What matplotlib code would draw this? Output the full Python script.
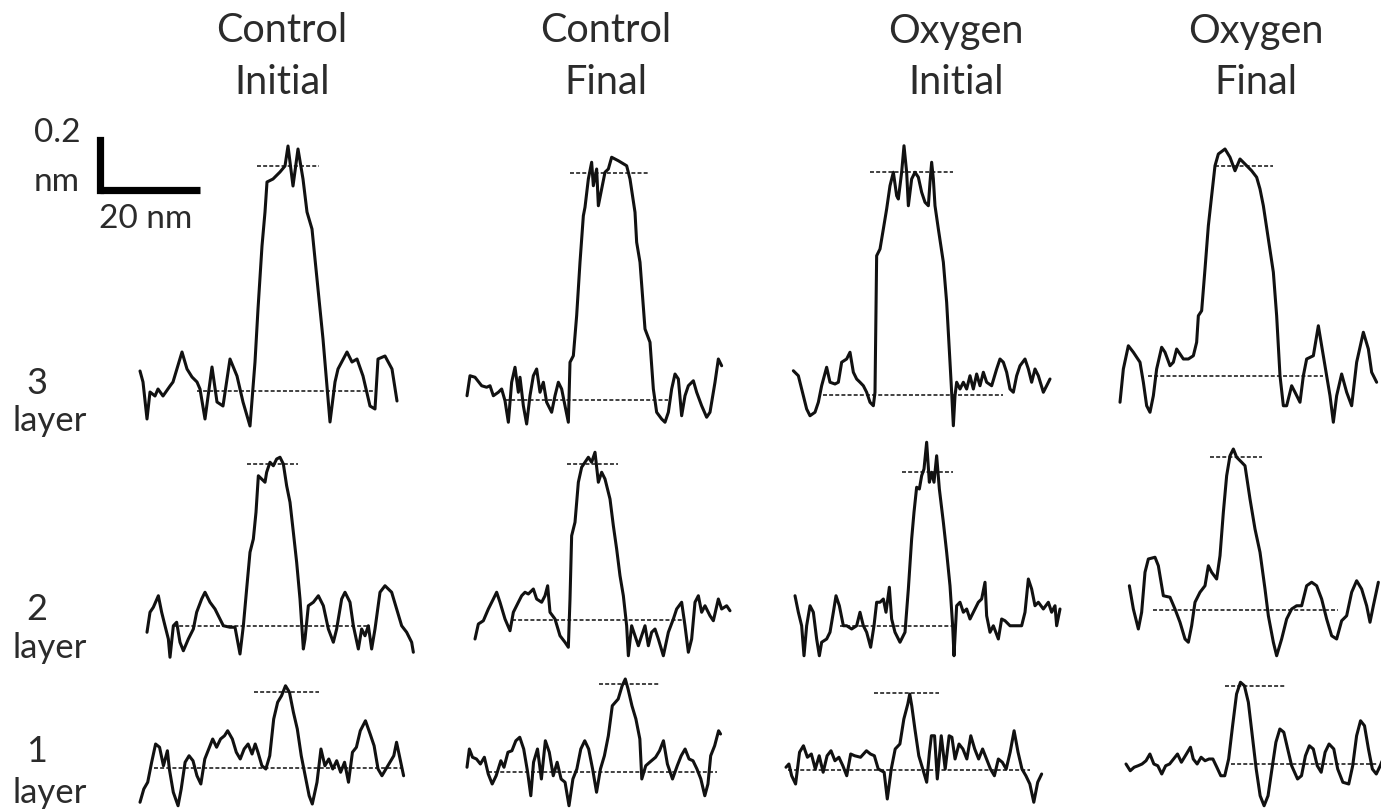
import matplotlib
matplotlib.use("Agg")
import matplotlib.pyplot as plt

# drawing scale: 5 px per nm along the scan, 250 px per nm in height
W, H = 1381, 812
PX_PER_NM_X = 5.0
PX_PER_NM_Z = 250.0

# ---- height profiles (x in nm along the line, h in nm above the substrate) ----

# Control, initial, 3 layer
ci3_x = [0, 0.6, 1.4, 2.0, 3.0, 3.6, 4.6, 6.0, 6.6, 8.4, 9.4, 10.4, 11.4, 12.0, 13.0, 14.4,
         15.4, 16.6, 18.0, 19.4, 20.6, 22.0, 23.0, 23.6, 24.4, 25.0, 25.4, 26.6, 28.0, 29.0,
         29.6, 30.6, 31.6, 32.6, 33.4, 34.4, 35.4, 36.6, 38.0, 39.0, 39.6, 41.4, 42.4, 43.4,
         44.6, 46.0, 47.0, 47.6, 49.0, 50.4, 51.4]
ci3_h = [0.08, 0.036, -0.112, -0.004, -0.02, 0.008, -0.02, 0.02, 0.036, 0.156, 0.088, 0.056,
         0.036, 0.008, -0.112, 0.096, -0.044, -0.06, 0.128, 0.06, -0.044, -0.14, 0.116, 0.328,
         0.58, 0.716, 0.836, 0.848, 0.876, 0.90, 0.98, 0.82, 0.968, 0.848, 0.716, 0.648, 0.448,
         0.208, -0.124, 0.036, 0.088, 0.156, 0.116, 0.128, 0.06, -0.06, -0.072, 0.128, 0.14,
         0.088, -0.04]
ci3_base = (11.3, 47.3)
ci3_step = (23.3, 35.7, 0.90)

# Control, final, 3 layer
cf3_x = [0, 0.6, 1.6, 2.93, 3.93, 4.6, 5.27, 6.27, 6.93, 7.6, 8.27, 8.93, 9.6, 10.27, 10.6,
         11.27, 11.93, 12.6, 13.27, 13.93, 14.6, 15.27, 15.93, 16.93, 17.6, 18.27, 18.93, 19.6,
         20.27, 20.6, 21.27, 21.93, 22.6, 23.27, 23.6, 24.27, 24.93, 25.27, 25.93, 26.27, 26.93,
         27.6, 28.27, 28.93, 30.27, 31.93, 32.6, 33.6, 33.93, 34.6, 35.6, 36.6, 37.27, 37.93,
         38.93, 39.6, 40.27, 40.93, 41.6, 42.27, 42.93, 43.6, 44.27, 45.27, 45.93, 46.93, 47.93,
         48.6, 49.6, 50.27, 50.93]
cf3_h = [0.017, 0.097, 0.091, 0.057, 0.051, 0.057, 0.017, 0.031, 0.044, -0.003, -0.089, 0.071,
         0.131, 0.031, 0.091, -0.023, -0.096, 0.017, 0.097, 0.124, 0.031, 0.071, -0.009, -0.049,
         0.017, 0.071, 0.044, -0.023, -0.089, 0.151, 0.177, 0.337, 0.551, 0.737, 0.771, 0.884,
         0.951, 0.857, 0.924, 0.777, 0.844, 0.911, 0.924, 0.971, 0.957, 0.937, 0.884, 0.751,
         0.631, 0.551, 0.284, 0.231, 0.044, -0.049, -0.076, -0.089, -0.049, 0.044, 0.104, 0.084,
         -0.063, 0.017, 0.057, 0.077, 0.031, -0.023, -0.069, -0.049, 0.071, 0.164, 0.137]
cf3_base = (7.6, 40.27)
cf3_step = (20.6, 36.27, 0.907)

# Oxygen, initial, 3 layer
oi3_x = [0.07, 1.07, 2.07, 2.73, 3.4, 4.4, 5.07, 5.73, 6.73, 7.4, 8.4, 9.07, 9.73, 10.73, 11.4,
         12.07, 12.73, 13.4, 14.07, 14.73, 15.4, 16.07, 16.4, 16.73, 17.4, 18.07, 18.73, 19.4,
         20.07, 20.73, 21.07, 21.73, 22.2, 22.73, 23.07, 23.73, 24.4, 25.07, 25.73, 26.4, 27.07,
         27.4, 27.73, 28.07, 28.4, 29.07, 30.07, 30.73, 31.4, 31.73, 32.07, 32.4, 32.73, 33.4,
         34.07, 34.73, 35.4, 36.07, 36.73, 37.4, 38.07, 38.73, 39.73, 40.73, 41.4, 42.07, 42.73,
         43.4, 44.07, 44.73, 45.4, 46.4, 47.07, 47.73, 48.4, 49.07, 50.07, 50.73, 51.4]
oi3_h = [0.097, 0.077, -0.003, -0.056, -0.083, -0.069, -0.029, 0.037, 0.111, 0.051, 0.044,
         0.051, 0.131, 0.144, 0.171, 0.091, 0.064, 0.051, 0.037, 0.011, -0.029, -0.043, 0.011,
         0.557, 0.584, 0.664, 0.744, 0.837, 0.891, 0.797, 0.784, 0.891, 0.997, 0.891, 0.757,
         0.864, 0.891, 0.871, 0.811, 0.771, 0.757, 0.851, 0.931, 0.864, 0.757, 0.664, 0.531,
         0.371, 0.131, 0.011, -0.123, -0.003, 0.051, 0.024, 0.051, 0.024, 0.077, 0.024, 0.084,
         0.037, 0.091, 0.051, 0.037, 0.104, 0.144, 0.131, 0.091, 0.024, 0.011, 0.077, 0.117,
         0.144, 0.104, 0.051, 0.104, 0.077, 0.011, 0.037, 0.064]
oi3_base = (6.07, 42.07)
oi3_step = (15.4, 32.07, 0.891)

# Oxygen, final, 3 layer
of3_x = [0, 0.67, 1.67, 2.67, 4.0, 4.67, 5.33, 6.0, 6.67, 7.33, 8.33, 9.0, 10.0, 10.67, 11.33,
         12.0, 12.67, 13.67, 14.67, 15.33, 15.67, 16.33, 17.0, 17.67, 18.33, 19.0, 19.67, 21.0,
         22.0, 23.0, 24.0, 25.0, 26.33, 27.33, 28.0, 28.67, 29.67, 30.67, 31.33, 32.0, 32.67,
         33.33, 34.33, 35.0, 36.0, 36.67, 37.33, 38.67, 39.67, 40.33, 41.33, 42.0, 42.67, 43.33,
         44.33, 45.33, 46.33, 47.33, 48.67, 49.67, 50.33, 51.33]
of3_h = [-0.105, 0.028, 0.121, 0.095, 0.055, -0.025, -0.119, -0.145, -0.079, 0.028, 0.115,
         0.095, 0.041, 0.055, 0.108, 0.088, 0.068, 0.068, 0.081, 0.135, 0.241, 0.261, 0.428,
         0.601, 0.721, 0.841, 0.888, 0.908, 0.875, 0.821, 0.868, 0.848, 0.821, 0.795, 0.748,
         0.681, 0.548, 0.415, 0.241, 0.001, -0.119, -0.119, -0.039, -0.065, -0.105, 0.001,
         0.068, 0.081, 0.201, 0.121, 0.001, -0.079, -0.185, -0.079, 0.008, -0.065, -0.119,
         0.055, 0.175, 0.108, 0.015, -0.025]
of3_base = (5.67, 40.67)
of3_step = (19.0, 30.67, 0.841)

# Control, initial, 2 layer
ci2_x = [0, 0.6, 1.27, 2.27, 2.93, 3.6, 4.27, 4.6, 5.27, 5.93, 6.6, 7.27, 8.27, 9.27, 9.93,
         10.93, 11.6, 12.6, 13.6, 14.27, 15.27, 16.6, 17.6, 18.6, 19.27, 19.93, 20.6, 21.27,
         21.8, 22.27, 22.93, 23.6, 23.93, 24.6, 25.27, 25.93, 26.6, 27.27, 27.93, 28.6, 29.27,
         29.93, 30.6, 31.27, 31.6, 32.27, 33.27, 34.27, 35.27, 36.27, 37.27, 37.93, 38.93, 39.6,
         40.6, 41.27, 42.27, 42.93, 43.6, 44.27, 44.93, 45.6, 46.6, 47.6, 48.93, 49.93, 50.93,
         51.93, 52.93, 53.27]
ci2_h = [-0.025, 0.055, 0.075, 0.121, 0.055, 0.001, -0.052, -0.125, 0.001, 0.015, -0.065,
         -0.099, -0.052, -0.012, 0.055, 0.108, 0.135, 0.095, 0.068, 0.041, 0.001, -0.005,
         -0.005, -0.112, 0.001, 0.148, 0.295, 0.348, 0.455, 0.601, 0.588, 0.575, 0.615, 0.655,
         0.641, 0.668, 0.675, 0.648, 0.561, 0.495, 0.375, 0.255, 0.108, -0.092, -0.052, 0.081,
         0.095, 0.121, 0.081, -0.012, -0.065, -0.012, 0.108, 0.135, 0.095, 0.001, -0.092,
         -0.012, -0.039, 0.001, -0.092, -0.012, 0.135, 0.161, 0.135, 0.068, 0.001, -0.025,
         -0.065, -0.105]
ci2_base = (5.27, 44.6)
ci2_step = (19.93, 30.27, 0.648)

# Control, final, 2 layer
cf2_x = [0, 0.67, 1.67, 2.67, 3.67, 4.33, 5.0, 6.0, 7.0, 7.67, 8.67, 9.33, 10.0, 10.67, 11.67,
         12.33, 13.33, 14.0, 14.53, 15.0, 16.0, 17.0, 18.0, 18.67, 19.0, 19.33, 20.0, 20.67,
         21.33, 22.0, 22.67, 23.33, 24.0, 24.67, 25.33, 26.0, 27.0, 27.67, 28.33, 29.0, 29.67,
         30.33, 30.67, 31.33, 32.0, 32.67, 33.33, 34.0, 34.67, 35.33, 36.0, 36.67, 37.67, 38.67,
         39.67, 40.33, 41.33, 42.0, 42.67, 43.33, 44.0, 44.67, 45.33, 46.0, 47.0, 47.67, 48.67,
         49.33, 50.33, 51.0]
cf2_h = [-0.076, -0.016, -0.003, 0.044, 0.084, 0.111, 0.071, 0.004, -0.043, 0.031, 0.071,
         0.097, 0.111, 0.104, 0.124, 0.084, 0.071, 0.097, 0.137, 0.031, 0.004, -0.063, -0.089,
         -0.109, 0.084, 0.337, 0.391, 0.551, 0.611, 0.631, 0.651, 0.631, 0.671, 0.551, 0.591,
         0.564, 0.484, 0.377, 0.284, 0.177, 0.097, -0.023, -0.143, -0.023, -0.063, -0.103,
         -0.063, -0.023, -0.103, -0.049, -0.036, -0.076, -0.143, -0.049, 0.004, 0.044, 0.071,
         -0.023, -0.129, -0.076, 0.071, 0.097, 0.031, 0.057, 0.017, -0.003, 0.084, 0.044,
         0.057, 0.037]
cf2_base = (7.33, 41.33)
cf2_step = (18.33, 28.67, 0.624)

# Oxygen, initial, 2 layer
oi2_x = [0, 0.67, 1.33, 1.8, 2.33, 3.0, 3.67, 4.33, 4.87, 5.33, 6.33, 7.0, 7.67, 8.2, 8.87,
         9.67, 10.33, 11.33, 12.33, 13.0, 13.67, 14.33, 15.13, 15.8, 16.33, 17.0, 17.67, 18.2,
         18.87, 19.33, 20.0, 21.0, 22.0, 22.67, 23.33, 23.8, 24.33, 24.87, 25.33, 25.8, 26.33,
         26.87, 27.33, 27.8, 28.33, 28.87, 29.67, 30.33, 31.0, 31.53, 31.8, 32.33, 33.0, 33.67,
         34.33, 35.0, 35.67, 36.67, 37.33, 38.0, 38.33, 39.0, 39.67, 40.67, 41.33, 42.0, 43.0,
         44.33, 45.33, 46.0, 46.67, 47.33, 48.0, 48.67, 49.67, 50.67, 51.33, 52.0, 52.33, 53.0]
oi2_h = [0.121, 0.055, 0.001, -0.119, 0.001, 0.081, 0.055, -0.052, -0.119, -0.065, -0.052,
         -0.025, 0.055, 0.121, 0.081, 0.001, 0.001, -0.012, 0.001, 0.055, 0.001, -0.025,
         -0.085, 0.001, 0.095, 0.095, 0.108, 0.055, 0.155, 0.028, -0.025, -0.065, -0.025,
         0.148, 0.348, 0.455, 0.555, 0.548, 0.601, 0.628, 0.735, 0.575, 0.615, 0.575, 0.681,
         0.548, 0.415, 0.295, 0.161, 0.001, -0.119, 0.081, 0.095, 0.055, 0.068, 0.028, 0.055,
         0.095, 0.108, 0.175, 0.041, -0.025, 0.001, -0.052, 0.028, 0.021, 0.001, 0.001, 0.001,
         0.055, 0.188, 0.148, 0.081, 0.095, 0.068, 0.095, 0.055, 0.081, 0.001, 0.068]
oi2_base = (9.0, 32.33)
oi2_step = (21.33, 31.67, 0.617)

# Oxygen, final, 2 layer
of2_x = [0.07, 0.87, 1.87, 2.53, 3.2, 3.87, 5.2, 5.87, 6.87, 8.2, 9.2, 10.2, 11.2, 11.87, 12.53,
         13.2, 14.2, 15.2, 15.87, 16.53, 17.53, 18.2, 18.87, 19.53, 20.2, 20.87, 21.53, 22.53,
         23.2, 24.2, 25.2, 26.2, 27.2, 27.87, 28.87, 29.53, 30.53, 31.53, 32.53, 33.53, 34.53,
         35.53, 36.53, 37.53, 38.53, 39.53, 40.53, 41.53, 42.53, 43.53, 44.53, 45.53, 46.53,
         47.53, 48.2, 48.87, 49.87]
of2_h = [0.097, 0.004, -0.076, -0.009, 0.151, 0.204, 0.211, 0.177, 0.057, 0.051, 0.004,
         -0.049, -0.116, -0.129, -0.063, 0.031, 0.071, 0.097, 0.177, 0.151, 0.124, 0.217,
         0.391, 0.537, 0.617, 0.644, 0.611, 0.591, 0.577, 0.444, 0.324, 0.231, 0.084, -0.023,
         -0.129, -0.183, -0.116, -0.036, 0.004, 0.017, 0.017, 0.097, 0.111, 0.097, 0.044,
         -0.036, -0.103, -0.116, -0.043, -0.023, 0.071, 0.117, 0.084, 0.017, -0.049, 0.017,
         0.111]
of2_base = (4.87, 41.87)
of2_step = (16.2, 26.53, 0.611)

# Control, initial, 1 layer
ci1_x = [0, 0.76, 1.54, 2.33, 3.12, 3.91, 4.69, 5.48, 5.87, 6.66, 7.61, 8.24, 9.02, 9.81, 10.6,
         11.39, 12.17, 12.96, 13.75, 14.54, 15.32, 16.11, 16.9, 17.53, 18.47, 19.26, 20.05,
         20.83, 21.62, 22.41, 23.04, 23.59, 24.38, 25.17, 25.95, 26.74, 27.53, 28.31, 29.1,
         29.89, 30.68, 31.46, 32.25, 33.04, 33.83, 34.46, 35.4, 36.19, 36.98, 37.76, 38.55,
         39.34, 40.13, 40.91, 41.7, 42.49, 43.28, 44.06, 45.09, 46.03, 46.82, 47.61, 48.39,
         49.57, 50.76, 51.31, 51.94, 52.72]
ci1_h = [-0.137, -0.084, -0.057, 0.023, 0.096, 0.083, 0.009, 0.069, -0.004, -0.097, -0.151,
         -0.084, 0.023, 0.049, 0.029, -0.031, -0.064, 0.036, 0.076, 0.116, 0.083, 0.116, 0.129,
         0.149, 0.116, 0.063, 0.036, 0.076, 0.096, 0.056, 0.096, 0.063, 0.009, -0.004, 0.049,
         0.196, 0.263, 0.289, 0.329, 0.303, 0.223, 0.156, 0.049, -0.031, -0.111, -0.144,
         -0.057, 0.076, 0.009, 0.036, -0.004, 0.029, -0.017, 0.023, -0.057, 0.063, 0.083, 0.149,
         0.189, 0.136, 0.089, -0.004, -0.031, 0.009, 0.049, 0.103, 0.043, -0.031]
ci1_base = (2.72, 52.3)
ci1_step = (22.8, 35.8, 0.303)

# Control, final, 1 layer
cf1_x = [0, 0.47, 1.1, 1.89, 2.68, 3.47, 4.25, 5.04, 5.83, 6.77, 7.4, 8.19, 8.98, 9.77, 10.55,
         11.34, 12.13, 12.76, 13.31, 14.1, 14.88, 15.67, 16.46, 17.25, 18.03, 18.82, 19.61,
         20.4, 21.18, 21.97, 22.76, 23.55, 24.33, 25.12, 25.91, 26.69, 27.48, 28.27, 29.06,
         30.24, 31.03, 31.66, 32.21, 32.99, 33.78, 34.57, 34.96, 35.75, 36.54, 37.72, 38.51,
         39.29, 40.08, 41.1, 42.05, 42.84, 43.62, 44.41, 45.2, 45.99, 46.77, 47.56, 48.19,
         48.74, 49.53, 50.32, 50.71]
cf1_h = [0.019, 0.092, 0.059, 0.052, 0.032, 0.059, -0.008, -0.048, -0.015, 0.045, 0.019,
         0.079, 0.085, 0.125, 0.139, 0.092, -0.001, -0.095, 0.039, 0.092, -0.028, 0.125, 0.079,
         -0.015, 0.039, -0.028, -0.041, -0.135, -0.028, 0.012, 0.092, 0.125, 0.092, 0.012,
         -0.081, 0.012, 0.065, 0.145, 0.265, 0.292, 0.345, 0.372, 0.332, 0.265, 0.212, 0.132,
         -0.028, 0.025, 0.039, 0.059, 0.085, 0.125, 0.032, -0.028, 0.025, 0.065, 0.092, 0.052,
         0.045, 0.012, -0.028, -0.095, -0.048, 0.065, 0.105, 0.165, 0.152]
cf1_base = (4.25, 49.92)
cf1_step = (26.3, 38.51, 0.352)

# Oxygen, initial, 1 layer
oi1_x = [0, 0.58, 1.13, 1.92, 2.71, 3.49, 4.28, 5.07, 5.86, 6.64, 7.43, 8.22, 9.0, 9.79, 10.58,
         11.37, 12.15, 12.94, 13.73, 14.91, 16.09, 16.88, 17.67, 18.45, 19.63, 20.26, 21.05,
         21.84, 22.78, 23.57, 24.36, 24.75, 25.15, 25.78, 26.56, 27.35, 28.14, 28.69, 29.08,
         29.71, 30.26, 31.05, 31.84, 32.63, 33.18, 33.81, 34.6, 35.38, 36.17, 36.96, 37.74,
         38.53, 39.32, 40.11, 40.89, 41.68, 42.47, 43.26, 44.04, 44.83, 45.62, 46.41, 47.19,
         47.98, 48.77, 49.56, 50.34, 51.13]
oi1_h = [0.011, 0.024, -0.023, -0.056, 0.071, 0.097, 0.051, 0.064, 0.004, 0.057, -0.009,
         0.057, 0.077, 0.037, 0.051, 0.017, -0.023, 0.064, 0.057, 0.051, 0.077, 0.064, 0.057,
         0.004, -0.009, -0.116, 0.004, 0.084, 0.104, 0.204, 0.264, 0.304, 0.257, 0.164, 0.057,
         0.004, -0.049, 0.071, 0.137, 0.137, -0.036, 0.137, 0.004, 0.137, 0.131, 0.044, 0.104,
         0.084, 0.044, 0.137, 0.084, 0.044, 0.084, 0.044, 0.004, -0.023, 0.044, 0.031, 0.004,
         0.071, 0.157, 0.071, 0.004, -0.023, -0.056, -0.129, -0.049, -0.016]
oi1_base = (0.34, 48.77)
oi1_step = (17.67, 30.66, 0.308)

# Oxygen, final, 1 layer
of1_x = [0, 0.85, 1.63, 2.42, 3.21, 4.0, 4.78, 5.57, 6.36, 7.15, 7.93, 8.72, 9.51, 10.3, 11.08,
         11.87, 12.89, 13.45, 14.23, 15.02, 15.81, 16.6, 17.38, 18.17, 18.96, 19.75, 20.53,
         21.32, 22.11, 22.89, 23.68, 24.47, 25.26, 26.04, 26.83, 27.62, 28.41, 29.19, 29.98,
         30.77, 31.56, 32.34, 33.13, 34.31, 35.1, 35.89, 36.67, 37.46, 38.25, 39.04, 39.82,
         40.61, 41.56, 42.34, 43.37, 44.55, 45.34, 46.12, 46.91, 47.7, 48.49, 49.27, 50.06,
         50.85, 51.64]
of1_h = [0.0, -0.027, -0.013, -0.007, 0.0, 0.013, 0.04, 0.0, -0.007, -0.04, -0.007, 0.0, 0.02,
         0.04, 0.007, 0.033, 0.067, 0.02, 0.0, 0.027, 0.013, 0.02, 0.02, -0.013, -0.047, -0.047,
         0.02, 0.153, 0.28, 0.327, 0.313, 0.247, 0.113, -0.02, -0.127, -0.167, -0.127, -0.02,
         0.087, 0.14, 0.127, 0.06, -0.007, -0.06, -0.047, 0.033, 0.073, 0.06, -0.007, -0.033,
         0.047, 0.08, 0.06, -0.02, -0.073, -0.08, -0.007, 0.113, 0.173, 0.153, 0.06, -0.02,
         -0.04, -0.007, 0.033]
of1_base = (20.93, 50.45)
of1_step = (19.75, 31.95, 0.313)

col_titles = ["Control\nInitial", "Control\nFinal", "Oxygen\nInitial", "Oxygen\nFinal"]
row_numbers = ["3", "2", "1"]

profiles = [
    (ci3_x, ci3_h, ci3_base, ci3_step), (cf3_x, cf3_h, cf3_base, cf3_step),
    (oi3_x, oi3_h, oi3_base, oi3_step), (of3_x, of3_h, of3_base, of3_step),
    (ci2_x, ci2_h, ci2_base, ci2_step), (cf2_x, cf2_h, cf2_base, cf2_step),
    (oi2_x, oi2_h, oi2_base, oi2_step), (of2_x, of2_h, of2_base, of2_step),
    (ci1_x, ci1_h, ci1_base, ci1_step), (cf1_x, cf1_h, cf1_base, cf1_step),
    (oi1_x, oi1_h, oi1_base, oi1_step), (of1_x, of1_h, of1_base, of1_step),
]

# where each profile starts (left end, substrate level), in figure pixels
origins_px = [(140, 392), (467, 401), (793, 396), (1120, 377),
              (147, 627), (475, 621), (795, 627), (1129, 611),
              (140, 769), (467, 773), (786, 771), (1126, 765)]
col_centers_px = [282, 606, 956, 1256]
row_label_y_px = [(383, 421), (610, 648), (752, 793)]

FONT = ["Lato", "DejaVu Sans"]
INK = "#111111"
TEXT = "#2b2b2b"

fig = plt.figure(figsize=(W / 100, H / 100), dpi=100)
ax = fig.add_axes([0, 0, 1, 1])
ax.set_xlim(0, W / PX_PER_NM_X)
ax.set_ylim(0, H / PX_PER_NM_Z)
ax.axis("off")


def to_nm(px, py):
    return px / PX_PER_NM_X, (H - py) / PX_PER_NM_Z


for (xs, hs, base, step), (opx, opy) in zip(profiles, origins_px):
    x0, y0 = to_nm(opx, opy)
    ax.plot([x0 + v for v in xs], [y0 + v for v in hs], color=INK, lw=2.2,
            solid_joinstyle="round", solid_capstyle="round", zorder=3)
    # substrate level and step top
    ax.plot([x0 + base[0], x0 + base[1]], [y0, y0], color="#333333", lw=1.3,
            dashes=(2.2, 1.2), zorder=2)
    ax.plot([x0 + step[0], x0 + step[1]], [y0 + step[2], y0 + step[2]], color="#333333",
            lw=1.3, dashes=(2.2, 1.2), zorder=2)

# scale bar: 20 nm across, 0.2 nm up
sx, sy = to_nm(100, 191)
ax.plot([sx, sx], [sy, sy + 0.2], color="black", lw=5.2, solid_capstyle="projecting")
ax.plot([sx, sx + 20], [sy, sy], color="black", lw=5.2, solid_capstyle="butt")


def label(px, py, s, size):
    fig.text(px / W, 1 - py / H, s, ha="center", va="center", fontsize=size,
             family=FONT, color=TEXT, linespacing=1.5)


for cx, title in zip(col_centers_px, col_titles):
    label(cx, 57, title, 28.5)

for (ny, ly), num in zip(row_label_y_px, row_numbers):
    label(37, ny, num, 26)
    label(50, ly, "layer", 25)

label(57, 133, "0.2", 24)
label(57, 182, "nm", 24)
label(146, 219, "20 nm", 24)

fig.savefig("out.png", dpi=100)
